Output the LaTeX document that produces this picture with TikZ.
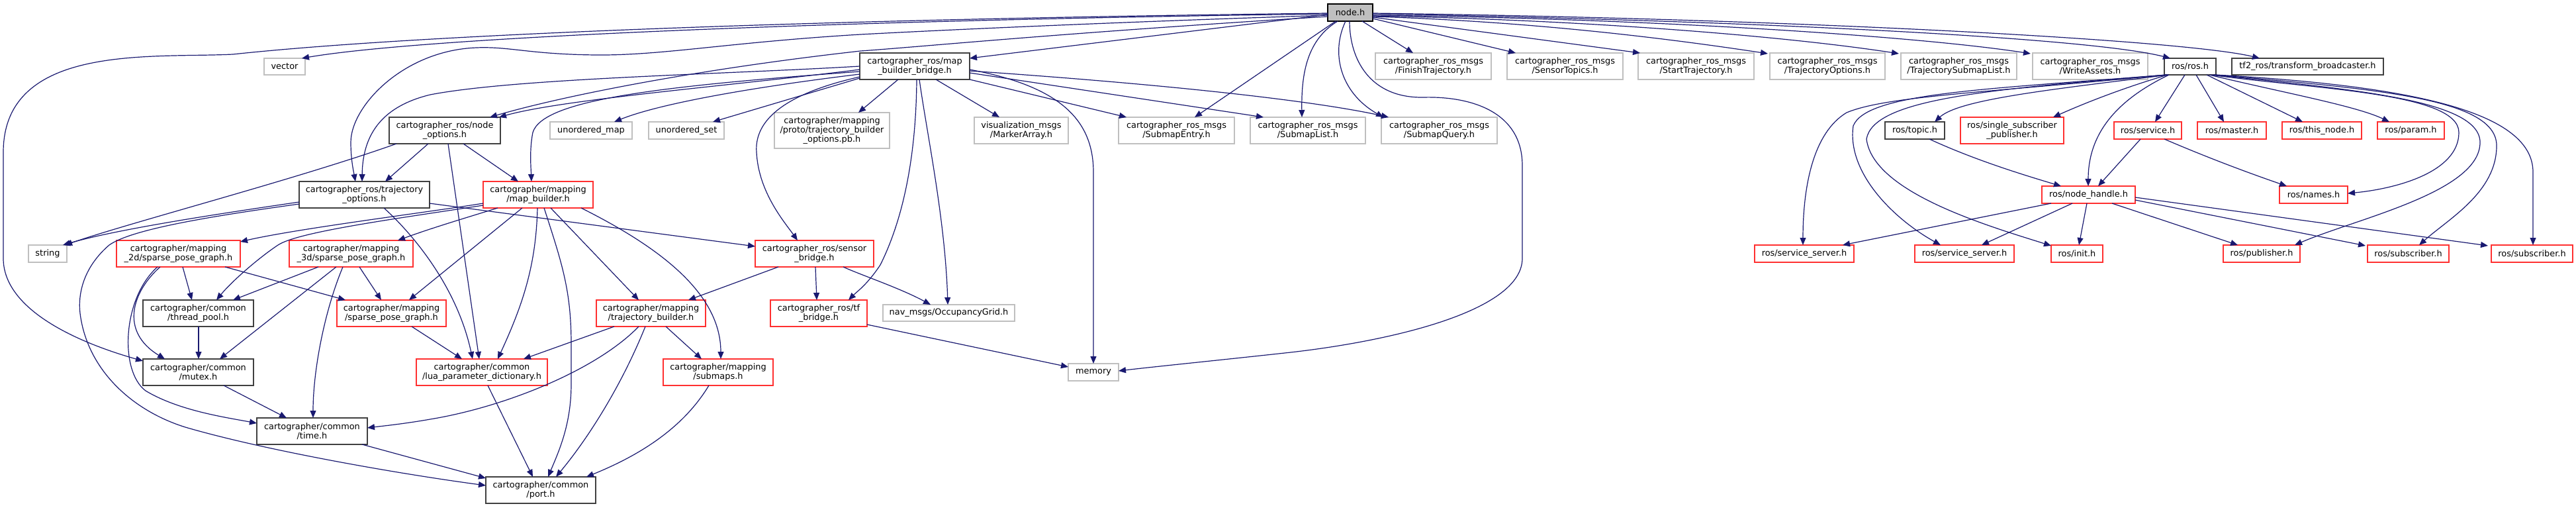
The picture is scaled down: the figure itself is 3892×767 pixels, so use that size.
\documentclass[tikz,border=0pt]{standalone}
\usepackage{fontspec}
\setmainfont{DejaVu Sans}
\usetikzlibrary{arrows.meta}
\definecolor{edgec}{HTML}{191970}
\definecolor{redb}{HTML}{FF3030}
\definecolor{grayb}{HTML}{BFBFBF}
\definecolor{blackb}{HTML}{404040}
\definecolor{rootf}{HTML}{BFBFBF}
\tikzset{
 base/.style={rectangle, inner sep=0pt, outer sep=0pt, line width=1.3pt, align=center, font=\fontsize{12.9}{14}\selectfont, fill=white},
 rootbox/.style={base, draw=black, fill=rootf},
 docbox/.style={base, draw=blackb},
 redbox/.style={base, draw=redb},
 extbox/.style={base, draw=grayb},
 dep/.style={draw=edgec, line width=1.2pt, -{Triangle[length=11pt,width=9pt]}},
}
\newcommand{\mkbox}[7]{\node[#2, minimum width={(#5-#3)*1pt}, minimum height={(#6-#4)*1pt}] (#1) at ({(#3+#5)/2},{(#4+#6)/2}) {#7};}
\begin{document}
\begin{tikzpicture}[x=1pt,y=-1pt]
\useasboundingbox (0,0) rectangle (3892,767);
% nodes
\mkbox{nodeh}{rootbox}{2006}{6}{2074}{32}{node.h}
\mkbox{vector}{extbox}{399}{88}{461}{113}{vector}
\mkbox{string}{extbox}{43}{370}{101}{396}{string}
\mkbox{mbb}{docbox}{1299}{80}{1465}{120}{cartographer\_ros/map\\\_builder\_bridge.h}
\mkbox{nopt}{docbox}{588}{177}{756}{217}{cartographer\_ros/node\\\_options.h}
\mkbox{topt}{docbox}{452}{274}{649}{314}{cartographer\_ros/trajectory\\\_options.h}
\mkbox{umap}{extbox}{831}{184}{955}{210}{unordered\_map}
\mkbox{uset}{extbox}{980}{184}{1094}{210}{unordered\_set}
\mkbox{proto}{extbox}{1170}{170}{1344}{224}{cartographer/mapping\\/proto/trajectory\_builder\\\_options.pb.h}
\mkbox{marker}{extbox}{1472}{177}{1614}{217}{visualization\_msgs\\/MarkerArray.h}
\mkbox{sentry}{extbox}{1690}{177}{1865}{217}{cartographer\_ros\_msgs\\/SubmapEntry.h}
\mkbox{slist}{extbox}{1889}{177}{2063}{217}{cartographer\_ros\_msgs\\/SubmapList.h}
\mkbox{squery}{extbox}{2087}{177}{2262}{217}{cartographer\_ros\_msgs\\/SubmapQuery.h}
\mkbox{finish}{extbox}{2078}{80}{2253}{120}{cartographer\_ros\_msgs\\/FinishTrajectory.h}
\mkbox{sensort}{extbox}{2277}{80}{2452}{120}{cartographer\_ros\_msgs\\/SensorTopics.h}
\mkbox{startt}{extbox}{2475}{80}{2650}{120}{cartographer\_ros\_msgs\\/StartTrajectory.h}
\mkbox{trajopt}{extbox}{2674}{80}{2848}{120}{cartographer\_ros\_msgs\\/TrajectoryOptions.h}
\mkbox{tsubl}{extbox}{2872}{80}{3047}{120}{cartographer\_ros\_msgs\\/TrajectorySubmapList.h}
\mkbox{wassets}{extbox}{3071}{80}{3245}{120}{cartographer\_ros\_msgs\\/WriteAssets.h}
\mkbox{rosh}{docbox}{3270}{88}{3348}{113}{ros/ros.h}
\mkbox{tf2}{docbox}{3372}{88}{3601}{113}{tf2\_ros/transform\_broadcaster.h}
\mkbox{mapb}{redbox}{730}{274}{896}{314}{cartographer/mapping\\/map\_builder.h}
\mkbox{sensb}{redbox}{1141}{363}{1320}{403}{cartographer\_ros/sensor\\\_bridge.h}
\mkbox{sp2}{redbox}{176}{363}{363}{403}{cartographer/mapping\\\_2d/sparse\_pose\_graph.h}
\mkbox{sp3}{redbox}{437}{363}{624}{403}{cartographer/mapping\\\_3d/sparse\_pose\_graph.h}
\mkbox{tpool}{docbox}{216}{453}{383}{493}{cartographer/common\\/thread\_pool.h}
\mkbox{mspg}{redbox}{509}{453}{674}{493}{cartographer/mapping\\/sparse\_pose\_graph.h}
\mkbox{tbuild}{redbox}{901}{453}{1066}{493}{cartographer/mapping\\/trajectory\_builder.h}
\mkbox{tfb}{redbox}{1164}{453}{1310}{493}{cartographer\_ros/tf\\\_bridge.h}
\mkbox{occ}{extbox}{1334}{460}{1533}{485}{nav\_msgs/OccupancyGrid.h}
\mkbox{mutex}{docbox}{216}{542}{383}{582}{cartographer/common\\/mutex.h}
\mkbox{lua}{redbox}{629}{542}{827}{582}{cartographer/common\\/lua\_parameter\_dictionary.h}
\mkbox{submaps}{redbox}{1002}{542}{1168}{582}{cartographer/mapping\\/submaps.h}
\mkbox{memory}{extbox}{1614}{549}{1690}{575}{memory}
\mkbox{time}{docbox}{388}{631}{555}{671}{cartographer/common\\/time.h}
\mkbox{port}{docbox}{734}{720}{900}{760}{cartographer/common\\/port.h}
\mkbox{topic}{docbox}{2848}{184}{2938}{210}{ros/topic.h}
\mkbox{ssp}{redbox}{2962}{177}{3118}{217}{ros/single\_subscriber\\\_publisher.h}
\mkbox{service}{redbox}{3194}{184}{3296}{210}{ros/service.h}
\mkbox{master}{redbox}{3320}{184}{3424}{210}{ros/master.h}
\mkbox{thisn}{redbox}{3448}{184}{3568}{210}{ros/this\_node.h}
\mkbox{param}{redbox}{3592}{184}{3693}{210}{ros/param.h}
\mkbox{nh}{redbox}{3085}{281}{3226}{307}{ros/node\_handle.h}
\mkbox{names}{redbox}{3444}{281}{3547}{307}{ros/names.h}
\mkbox{ssa}{redbox}{2651}{370}{2801}{396}{ros/service\_server.h}
\mkbox{ssb}{redbox}{2893}{370}{3043}{396}{ros/service\_server.h}
\mkbox{init}{redbox}{3099}{370}{3177}{396}{ros/init.h}
\mkbox{pub}{redbox}{3359}{370}{3475}{396}{ros/publisher.h}
\mkbox{suba}{redbox}{3577}{370}{3700}{396}{ros/subscriber.h}
\mkbox{subb}{redbox}{3764}{370}{3887}{396}{ros/subscriber.h}
% edges from node.h
\draw[dep] ([shift={(0,15)}]nodeh.north west) .. controls (1300,30) and (650,55) .. ([shift={(57,0)}]vector.north west);
\draw[dep] ([shift={(0,14)}]nodeh.north west) .. controls (1300,28) and (650,50) .. (352,82) .. controls (230,88) and (5,65) .. (5,230) -- (5,390) .. controls (5,465) and (110,515) .. ([shift={(0,3)}]mutex.north west);
\draw[dep] ([shift={(0,17)}]nodeh.north west) .. controls (1700,33) and (1450,44) .. (1300,52) .. controls (1100,64) and (1000,84) .. (900,83) .. controls (800,82) and (770,70) .. (720,72) .. controls (610,76) and (530,160) .. (530,215) .. controls (530,240) and (534,258) .. ([shift={(85,0)}]topt.north west);
\draw[dep] ([shift={(0,19)}]nodeh.north west) .. controls (1600,50) and (1400,70) .. (1300,77) .. controls (1050,105) and (850,145) .. ([shift={(152,0)}]nopt.north west);
\draw[dep] ([shift={(0,16)}]nodeh.north west) -- ([shift={(166,8)}]mbb.north west);
\draw[dep] ([shift={(12,26)}]nodeh.north west) -- ([shift={(115,0)}]sentry.north west);
\draw[dep] ([shift={(15,26)}]nodeh.north west) .. controls (1975,60) and (1966,110) .. ([shift={(78,0)}]slist.north west);
\draw[dep] ([shift={(27,26)}]nodeh.north west) .. controls (2010,80) and (2025,140) .. ([shift={(3,0)}]squery.north west);
\draw[dep] ([shift={(33,26)}]nodeh.north west) .. controls (2039,90) and (2070,148) .. (2150,147) .. controls (2225,145) and (2300,170) .. (2300,250) -- (2300,390) .. controls (2300,470) and (2100,515) .. (1950,532) .. controls (1850,543) and (1750,553) .. ([shift={(76,11)}]memory.north west);
\draw[dep] ([shift={(52,26)}]nodeh.north west) -- ([shift={(57,0)}]finish.north west);
\draw[dep] ([shift={(68,22)}]nodeh.north west) -- ([shift={(13,0)}]sensort.north west);
\draw[dep] ([shift={(68,20)}]nodeh.north west) -- ([shift={(3,0)}]startt.north west);
\draw[dep] ([shift={(68,19)}]nodeh.north west) .. controls (2300,32) and (2500,55) .. ([shift={(-3,1)}]trajopt.north west);
\draw[dep] ([shift={(68,18)}]nodeh.north west) .. controls (2400,30) and (2700,55) .. ([shift={(-3,1)}]tsubl.north west);
\draw[dep] ([shift={(68,17)}]nodeh.north west) .. controls (2500,28) and (2900,55) .. ([shift={(-3,1)}]wassets.north west);
\draw[dep] ([shift={(68,15)}]nodeh.north west) .. controls (2600,30) and (3150,55) .. ([shift={(9,0)}]rosh.north west);
\draw[dep] ([shift={(68,14)}]nodeh.north west) .. controls (2700,28) and (3300,60) .. ([shift={(42,0)}]tf2.north west);
% edges from map_builder_bridge
\draw[dep] ([shift={(0,25)}]mbb.north west) .. controls (1100,130) and (850,150) .. ([shift={(166,0)}]nopt.north west);
\draw[dep] ([shift={(0,20)}]mbb.north west) .. controls (1100,112) and (780,118) .. (650,143) .. controls (580,160) and (548,200) .. ([shift={(95,0)}]topt.north west);
\draw[dep] ([shift={(0,28)}]mbb.north west) .. controls (1000,130) and (820,150) .. (805,200) .. controls (800,225) and (802,250) .. ([shift={(73,0)}]mapb.north west);
\draw[dep] ([shift={(0,32)}]mbb.north west) .. controls (1150,130) and (1000,155) .. ([shift={(97,0)}]umap.north west);
\draw[dep] ([shift={(0,38)}]mbb.north west) -- ([shift={(97,0)}]uset.north west);
\draw[dep] ([shift={(58,40)}]mbb.north west) -- ([shift={(127,0)}]proto.north west);
\draw[dep] ([shift={(0,36)}]mbb.north west) .. controls (1170,145) and (1140,190) .. (1143,230) .. controls (1146,290) and (1185,335) .. ([shift={(64,0)}]sensb.north west);
\draw[dep] ([shift={(115,40)}]mbb.north west) -- ([shift={(38,0)}]marker.north west);
\draw[dep] ([shift={(166,40)}]mbb.north west) -- ([shift={(12,0)}]sentry.north west);
\draw[dep] ([shift={(166,30)}]mbb.north west) -- ([shift={(20,0)}]slist.north west);
\draw[dep] ([shift={(166,27)}]mbb.north west) .. controls (1800,130) and (2000,155) .. ([shift={(11,0)}]squery.north west);
\draw[dep] ([shift={(166,25)}]mbb.north west) .. controls (1600,130) and (1652,180) .. (1652,260) -- ([shift={(38,0)}]memory.north west);
\draw[dep] ([shift={(86,40)}]mbb.north west) .. controls (1384,250) and (1360,340) .. (1330,400) .. controls (1310,430) and (1295,440) .. ([shift={(118,0)}]tfb.north west);
\draw[dep] ([shift={(90,40)}]mbb.north west) .. controls (1400,200) and (1428,330) .. ([shift={(98,0)}]occ.north west);
% node_options
\draw[dep] ([shift={(11,40)}]nopt.north west) .. controls (450,270) and (200,335) .. ([shift={(55,0)}]string.north west);
\draw[dep] ([shift={(59,40)}]nopt.north west) -- ([shift={(130,0)}]topt.north west);
\draw[dep] ([shift={(112,40)}]nopt.north west) -- ([shift={(53,0)}]mapb.north west);
\draw[dep] ([shift={(89,40)}]nopt.north west) -- ([shift={(95,0)}]lua.north west);
% trajectory_options
\draw[dep] ([shift={(0,31)}]topt.north west) .. controls (350,320) and (180,345) .. ([shift={(52,0)}]string.north west);
\draw[dep] ([shift={(0,34)}]topt.north west) .. controls (330,325) and (200,345) .. (165,370) .. controls (130,400) and (115,440) .. (122,480) .. controls (135,560) and (200,620) .. (280,645) .. controls (400,680) and (600,715) .. ([shift={(0,13)}]port.north west);
\draw[dep] ([shift={(128,40)}]topt.north west) .. controls (620,350) and (690,430) .. ([shift={(85,0)}]lua.north west);
\draw[dep] ([shift={(197,33)}]topt.north west) -- ([shift={(0,9)}]sensb.north west);
% map_builder
\draw[dep] ([shift={(0,33)}]mapb.north west) .. controls (650,320) and (450,345) .. ([shift={(187,2)}]sp2.north west);
\draw[dep] ([shift={(0,36)}]mapb.north west) .. controls (600,330) and (450,350) .. (420,370) .. controls (390,390) and (350,425) .. ([shift={(111,0)}]tpool.north west);
\draw[dep] ([shift={(22,40)}]mapb.north west) .. controls (700,330) and (650,345) .. ([shift={(164,0)}]sp3.north west);
\draw[dep] ([shift={(59,40)}]mapb.north west) -- ([shift={(109,0)}]mspg.north west);
\draw[dep] ([shift={(82,40)}]mapb.north west) .. controls (810,400) and (790,460) .. ([shift={(123,0)}]lua.north west);
\draw[dep] ([shift={(92,40)}]mapb.north west) .. controls (850,400) and (863,440) .. (863,520) -- (863,580) .. controls (863,640) and (845,680) .. ([shift={(94,0)}]port.north west);
\draw[dep] ([shift={(102,40)}]mapb.north west) -- ([shift={(64,0)}]tbuild.north west);
\draw[dep] ([shift={(148,40)}]mapb.north west) .. controls (990,370) and (1089,440) .. ([shift={(87,0)}]submaps.north west);
% 2d / 3d sparse pose graph
\draw[dep] ([shift={(100,40)}]sp2.north west) -- ([shift={(74,0)}]tpool.north west);
\draw[dep] ([shift={(66,40)}]sp2.north west) .. controls (200,440) and (180,500) .. ([shift={(33,0)}]mutex.north west);
\draw[dep] ([shift={(62,40)}]sp2.north west) .. controls (185,450) and (180,560) .. (220,590) .. controls (270,620) and (340,630) .. ([shift={(0,8)}]time.north west);
\draw[dep] ([shift={(164,40)}]sp2.north west) -- ([shift={(13,0)}]mspg.north west);
\draw[dep] ([shift={(44,40)}]sp3.north west) -- ([shift={(136,0)}]tpool.north west);
\draw[dep] ([shift={(71,40)}]sp3.north west) -- ([shift={(116,0)}]mutex.north west);
\draw[dep] ([shift={(81,40)}]sp3.north west) .. controls (490,470) and (473,560) .. ([shift={(85,0)}]time.north west);
\draw[dep] ([shift={(106,40)}]sp3.north west) -- ([shift={(67,0)}]mspg.north west);
% lower left
\draw[dep] ([shift={(84,40)}]tpool.north west) -- ([shift={(84,0)}]mutex.north west);
\draw[dep] ([shift={(122,40)}]mutex.north west) -- ([shift={(45,0)}]time.north west);
\draw[dep] ([shift={(159,40)}]time.north west) -- ([shift={(0,2)}]port.north west);
\draw[dep] ([shift={(113,40)}]mspg.north west) -- ([shift={(69,0)}]lua.north west);
\draw[dep] ([shift={(108,40)}]lua.north west) -- ([shift={(71,0)}]port.north west);
\draw[dep] ([shift={(27,40)}]tbuild.north west) -- ([shift={(162,0)}]lua.north west);
\draw[dep] ([shift={(64,40)}]tbuild.north west) .. controls (900,560) and (760,615) .. (650,633) .. controls (610,640) and (580,643) .. ([shift={(167,15)}]time.north west);
\draw[dep] ([shift={(74,40)}]tbuild.north west) .. controls (940,580) and (890,660) .. ([shift={(106,0)}]port.north west);
\draw[dep] ([shift={(105,40)}]tbuild.north west) -- ([shift={(58,0)}]submaps.north west);
\draw[dep] ([shift={(69,40)}]submaps.north west) .. controls (1030,650) and (960,690) .. ([shift={(152,0)}]port.north west);
\draw[dep] ([shift={(35,40)}]sensb.north west) -- ([shift={(139,0)}]tbuild.north west);
\draw[dep] ([shift={(91,40)}]sensb.north west) -- ([shift={(70,0)}]tfb.north west);
\draw[dep] ([shift={(133,40)}]sensb.north west) .. controls (1300,415) and (1360,435) .. ([shift={(72,0)}]occ.north west);
\draw[dep] ([shift={(146,37)}]tfb.north west) -- ([shift={(0,5)}]memory.north west);
% ros.h cluster
\draw[dep] ([shift={(6,25)}]rosh.north west) .. controls (3100,135) and (2960,150) .. ([shift={(75,0)}]topic.north west);
\draw[dep] ([shift={(5,25)}]rosh.north west) .. controls (3200,135) and (3140,160) .. ([shift={(140,0)}]ssp.north west);
\draw[dep] ([shift={(31,25)}]rosh.north west) -- ([shift={(62,0)}]service.north west);
\draw[dep] ([shift={(48,25)}]rosh.north west) -- ([shift={(40,0)}]master.north west);
\draw[dep] ([shift={(64,25)}]rosh.north west) -- ([shift={(31,0)}]thisn.north west);
\draw[dep] ([shift={(68,25)}]rosh.north west) .. controls (3450,140) and (3560,160) .. ([shift={(18,0)}]param.north west);
\draw[dep] ([shift={(70,25)}]rosh.north west) .. controls (3500,135) and (3715,140) .. (3715,200) .. controls (3715,260) and (3620,285) .. ([shift={(103,11)}]names.north west);
\draw[dep] ([shift={(74,25)}]rosh.north west) .. controls (3550,135) and (3747,150) .. (3747,215) .. controls (3747,290) and (3560,330) .. ([shift={(108,0)}]pub.north west);
\draw[dep] ([shift={(76,25)}]rosh.north west) .. controls (3600,135) and (3772,150) .. (3772,220) .. controls (3772,290) and (3700,330) .. ([shift={(78,0)}]suba.north west);
\draw[dep] ([shift={(78,25)}]rosh.north west) .. controls (3650,130) and (3827,170) .. (3827,260) -- ([shift={(63,0)}]subb.north west);
\draw[dep] ([shift={(7,25)}]rosh.north west) .. controls (3200,150) and (3155,200) .. ([shift={(70,0)}]nh.north west);
\draw[dep] ([shift={(3,25)}]rosh.north west) .. controls (3000,140) and (2850,145) .. (2790,170) .. controls (2740,200) and (2724,280) .. ([shift={(73,0)}]ssa.north west);
\draw[dep] ([shift={(3,25)}]rosh.north west) .. controls (3000,135) and (2820,140) .. (2800,190) .. controls (2790,260) and (2860,330) .. ([shift={(39,0)}]ssb.north west);
\draw[dep] ([shift={(4,25)}]rosh.north west) .. controls (3000,135) and (2830,150) .. (2820,210) .. controls (2830,290) and (3000,340) .. ([shift={(0,1)}]init.north west);
\draw[dep] ([shift={(40,26)}]service.north west) -- ([shift={(85,0)}]nh.north west);
\draw[dep] ([shift={(76,26)}]service.north west) .. controls (3340,240) and (3400,262) .. ([shift={(11,0)}]names.north west);
\draw[dep] ([shift={(67,26)}]topic.north west) .. controls (2980,240) and (3050,262) .. ([shift={(29,0)}]nh.north west);
\draw[dep] ([shift={(14,26)}]nh.north west) -- ([shift={(133,0)}]ssa.north west);
\draw[dep] ([shift={(46,26)}]nh.north west) -- ([shift={(101,0)}]ssb.north west);
\draw[dep] ([shift={(68,26)}]nh.north west) -- ([shift={(42,0)}]init.north west);
\draw[dep] ([shift={(106,26)}]nh.north west) -- ([shift={(22,0)}]pub.north west);
\draw[dep] ([shift={(141,21)}]nh.north west) -- ([shift={(-3,1)}]suba.north west);
\draw[dep] ([shift={(141,17)}]nh.north west) -- ([shift={(-5,1)}]subb.north west);
\end{tikzpicture}
\end{document}
